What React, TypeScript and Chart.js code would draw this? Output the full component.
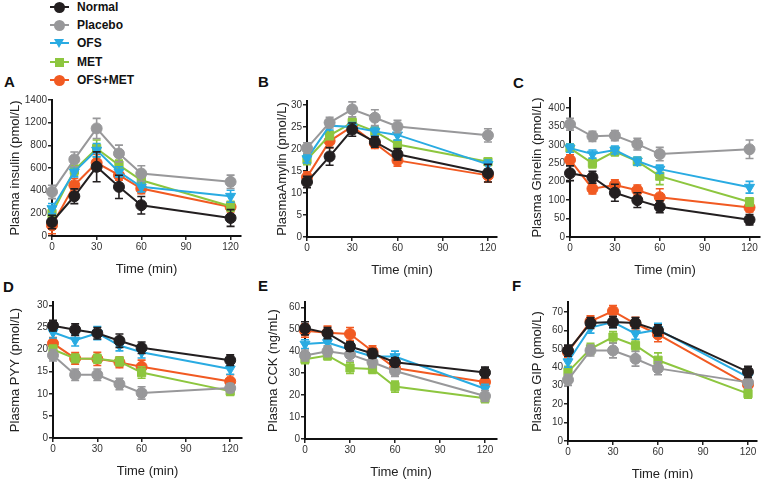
import React, { useEffect, useRef } from 'react';
import { Chart, registerables } from 'chart.js';
Chart.register(...registerables);

// ---------- data ----------
const seriesNames = ['Normal', 'Placebo', 'OFS', 'MET', 'OFS+MET'];
const timePoints = [0, 15, 30, 45, 60, 120];

// A: insulin (plotted on linear 0..1200 grid; axis labels as printed in the figure)
const insulinTickLabels = ['0', '200', '400', '600', '800', '1200', '1400'];
const insulinMeans = [
  [125, 355, 618, 439, 275, 161],
  [394, 684, 961, 737, 558, 484],
  [245, 573, 767, 573, 439, 355],
  [200, 588, 782, 633, 498, 266],
  [95, 454, 654, 543, 424, 260],
];
const insulinErrors = [
  [60, 66, 134, 104, 78, 75],
  [60, 66, 90, 75, 69, 60],
  [45, 45, 60, 45, 45, 54],
  [45, 45, 75, 45, 45, 45],
  [75, 60, 75, 45, 45, 45],
];

// B: amylin
const amylinMeans = [
  [12.5, 18.3, 24.4, 21.6, 18.8, 14.5],
  [20.2, 26, 29, 27.1, 25.1, 23.1],
  [17.8, 25.3, 25, 24, 23.2, 16.5],
  [17.6, 23.1, 26, 24, 21, 17.1],
  [13.6, 21.8, 25.1, 21.3, 17.4, 14],
];
const amylinErrors = [
  [1.3, 2, 1.5, 1.2, 1.3, 2],
  [1.2, 1.2, 1.7, 1.8, 1.4, 1.5],
  [1, 1, 1, 1, 1.2, 1],
  [1.2, 1, 1, 1, 1, 0.8],
  [1.2, 1.5, 1.4, 1.2, 1.3, 1.5],
];

// C: ghrelin (plotted on linear 0..350 grid; axis labels as printed in the figure)
const ghrelinTickLabels = ['0', '50', '100', '200', '250', '300', '350', '400'];
const ghrelinMeans = [
  [173, 162, 120, 100, 82, 47],
  [306, 273, 275, 252, 225, 238],
  [241, 225, 236, 206, 184, 135],
  [241, 200, 232, 205, 165, 95],
  [209, 131, 141, 127, 108, 80],
];
const ghrelinErrors = [
  [20, 16, 23, 20, 16, 14],
  [16, 14, 14, 16, 18, 25],
  [11, 11, 11, 11, 11, 16],
  [11, 13, 12, 11, 23, 11],
  [14, 14, 14, 14, 23, 12],
];

// D: PYY
const pyyMeans = [
  [25.4, 24.5, 23.7, 22, 20.4, 17.6],
  [18.7, 14.3, 14.3, 12.2, 10.2, 11.3],
  [23.9, 22.1, 23.7, 20.9, 19.4, 15.6],
  [20, 18, 17.9, 17.3, 14.8, 10.6],
  [21.4, 18, 17.9, 17.1, 16.1, 12.8],
];
const pyyErrors = [
  [1.2, 1.3, 1.3, 1.5, 1.3, 1.2],
  [1.3, 1.3, 1.3, 1.3, 1.4, 1],
  [1.3, 1.3, 1.5, 1.2, 1.3, 1.2],
  [1, 1, 1, 1, 1.3, 1],
  [1.3, 1.3, 1.5, 1.2, 1.5, 1.5],
];

// E: CCK
const cckMeans = [
  [50.5, 48.3, 42.2, 39, 35, 30.3],
  [38.1, 40, 38.6, 35, 31, 19.6],
  [43.3, 44, 40.7, 37.6, 37.6, 22.9],
  [36.4, 38.1, 32.4, 31.9, 23.9, 18.6],
  [49.4, 48.5, 47.9, 40, 32.4, 26],
];
const cckErrors = [
  [3, 2.5, 2, 2, 2, 2.5],
  [2.5, 2.5, 3, 2.5, 2.5, 2.5],
  [2, 2, 2, 2, 2.5, 2],
  [2, 2, 2.5, 2, 2.5, 2],
  [3, 3, 3, 2.5, 3, 2.5],
];

// F: GIP
const gipMeans = [
  [49, 64, 64.5, 64, 60, 37.5],
  [33.2, 49.1, 49.1, 44.6, 39.4, 31.8],
  [43, 61.5, 64.5, 58.2, 60.4, 34.7],
  [37.5, 50, 56.4, 51.8, 43.8, 25.7],
  [48.2, 64.9, 70.5, 63.6, 57.8, 30.5],
];
const gipErrors = [
  [3, 3, 3, 3, 3, 3],
  [3, 3, 4, 4, 3.5, 3],
  [3, 3, 3, 3, 3.5, 3],
  [3, 3, 3, 3, 4, 2.5],
  [3, 3, 3, 3.5, 4, 3],
];

// ---------- styles ----------
const colors = ['#231f20', '#98989a', '#29abe2', '#8dc63f', '#f15a22'];
const markers = ['circle', 'circle', 'triangle', 'rect', 'circle'];
const FONT = 'Arial, "Liberation Sans", Helvetica, sans-serif';

type PanelCfg = {
  letter: string;
  title: string;
  means: number[][];
  errors: number[][];
  yMax: number;
  yStep: number;
  tickLabels: string[] | null;
  area: { left: number; right: number; top: number; bottom: number };
  xMax: number;
  titleDist: number;
  letterPos: [number, number];
};

const panels: PanelCfg[] = [
  { letter: 'A', title: 'Plasma insulin (pmol/L)', means: insulinMeans, errors: insulinErrors, yMax: 1215, yStep: 200, tickLabels: insulinTickLabels, area: { left: 52, right: 241, top: 100, bottom: 236 }, xMax: 127, titleDist: 37, letterPos: [4, 82] },
  { letter: 'B', title: 'PlasmaAmylin (pmol/L)', means: amylinMeans, errors: amylinErrors, yMax: 30.9, yStep: 5, tickLabels: null, area: { left: 307, right: 497, top: 101, bottom: 237 }, xMax: 126, titleDist: 25, letterPos: [258, 82] },
  { letter: 'C', title: 'Plasma Ghrelin (pmol/L)', means: ghrelinMeans, errors: ghrelinErrors, yMax: 377, yStep: 50, tickLabels: ghrelinTickLabels, area: { left: 570, right: 760, top: 98, bottom: 237 }, xMax: 127, titleDist: 33, letterPos: [513, 83] },
  { letter: 'D', title: 'Plasma PYY (pmol/L)', means: pyyMeans, errors: pyyErrors, yMax: 30.75, yStep: 5, tickLabels: null, area: { left: 53, right: 242, top: 302, bottom: 438 }, xMax: 128, titleDist: 38, letterPos: [3, 287] },
  { letter: 'E', title: 'Plasma CCK (ng/mL)', means: cckMeans, errors: cckErrors, yMax: 62.5, yStep: 10, tickLabels: null, area: { left: 305, right: 497, top: 302, bottom: 439 }, xMax: 128, titleDist: 32, letterPos: [258, 286] },
  { letter: 'F', title: 'Plasma GIP (pmol/L)', means: gipMeans, errors: gipErrors, yMax: 75.4, yStep: 10, tickLabels: null, area: { left: 568, right: 757, top: 302, bottom: 441 }, xMax: 126, titleDist: 31, letterPos: [512, 286] },
];

const Y_W = 52;
const X_H = 45;
const PAD_T = 12;
const PAD_R = 10;
const TITLE_SIZE = 13;

const errorBarPlugin = {
  id: 'errorBars',
  afterDatasetDraw(chart: any, args: any) {
    const i = args.index;
    const ds = chart.data.datasets[i];
    const errs: number[] = ds.errors;
    if (!errs) return;
    const meta = chart.getDatasetMeta(i);
    const ys = chart.scales.y;
    const ctx = chart.ctx;
    ctx.save();
    ctx.strokeStyle = ds.borderColor;
    ctx.lineWidth = 1.6;
    meta.data.forEach((pt: any, j: number) => {
      const v = ds.data[j].y;
      const e = errs[j];
      const x = pt.x;
      const yTop = ys.getPixelForValue(v + e);
      const yBot = ys.getPixelForValue(v - e);
      ctx.beginPath();
      ctx.moveTo(x, yTop);
      ctx.lineTo(x, yBot);
      ctx.moveTo(x - 4, yTop);
      ctx.lineTo(x + 4, yTop);
      ctx.moveTo(x - 4, yBot);
      ctx.lineTo(x + 4, yBot);
      ctx.stroke();
    });
    ctx.restore();
  },
};

function Panel({ p }: { p: PanelCfg }) {
  const ref = useRef<HTMLCanvasElement | null>(null);
  const cL = p.area.left - Y_W;
  const cT = p.area.top - PAD_T;
  const cW = p.area.right - p.area.left + Y_W + PAD_R;
  const cH = p.area.bottom - p.area.top + PAD_T + X_H;

  useEffect(() => {
    if (!ref.current) return;
    const datasets = seriesNames.map((name, s) => ({
      label: name,
      data: timePoints.map((t, j) => ({ x: t, y: p.means[s][j] })),
      errors: p.errors[s],
      borderColor: colors[s],
      backgroundColor: colors[s],
      pointBackgroundColor: colors[s],
      pointBorderColor: colors[s],
      pointStyle: markers[s],
      pointRotation: markers[s] === 'triangle' ? 180 : 0,
      pointRadius: markers[s] === 'circle' ? 5.5 : 5.8,
      pointBorderWidth: 1,
      borderWidth: 2,
      tension: 0,
      clip: false as any,
    }));
    const titlePadTop = Y_W - p.titleDist - (TITLE_SIZE * 1.2) / 2;
    const chart = new Chart(ref.current, {
      type: 'line',
      data: { datasets: datasets as any },
      plugins: [errorBarPlugin],
      options: {
        animation: false,
        responsive: false,
        maintainAspectRatio: false,
        layout: { padding: { left: 0, top: PAD_T, right: PAD_R, bottom: 0 } },
        plugins: { legend: { display: false }, tooltip: { enabled: false } },
        scales: {
          x: {
            type: 'linear',
            min: 0,
            max: p.xMax,
            afterFit: (scale: any) => { scale.height = X_H; },
            ticks: {
              stepSize: 30,
              includeBounds: false,
              padding: 1,
              color: '#333',
              font: { family: FONT, size: 10 },
              maxRotation: 0,
            },
            grid: { display: true, drawOnChartArea: false, drawTicks: true, tickLength: 4, color: '#222', lineWidth: 1.5 },
            border: { display: true, color: '#111', width: 2 },
            title: {
              display: true,
              text: 'Time (min)',
              color: '#222',
              font: { family: FONT, size: TITLE_SIZE },
              padding: { top: 0, bottom: 4.2 },
            },
          },
          y: {
            type: 'linear',
            min: 0,
            max: p.yMax,
            afterFit: (scale: any) => { scale.width = Y_W; },
            ticks: {
              stepSize: p.yStep,
              includeBounds: false,
              padding: 1,
              color: '#333',
              font: { family: FONT, size: 10 },
              callback: (value: any) =>
                p.tickLabels ? p.tickLabels[Math.round(Number(value) / p.yStep)] : String(value),
            },
            grid: { display: true, drawOnChartArea: false, drawTicks: true, tickLength: 4, color: '#222', lineWidth: 1.5 },
            border: { display: true, color: '#111', width: 2 },
            title: {
              display: true,
              text: p.title,
              color: '#222',
              font: { family: FONT, size: TITLE_SIZE },
              padding: { top: titlePadTop, bottom: 0 },
            },
          },
        },
      } as any,
    });
    return () => chart.destroy();
  }, []);

  return (
    <canvas
      ref={ref}
      width={cW}
      height={cH}
      style={{ position: 'absolute', left: cL, top: cT, width: cW, height: cH, display: 'block' }}
    />
  );
}

function LegendMarker({ s }: { s: number }) {
  const c = colors[s];
  const m = markers[s];
  if (m === 'triangle') {
    return (
      <div style={{ position: 'absolute', left: 3.5, top: -4.5, width: 0, height: 0, borderLeft: '5.5px solid transparent', borderRight: '5.5px solid transparent', borderTop: `9px solid ${c}` }} />
    );
  }
  if (m === 'rect') {
    return <div style={{ position: 'absolute', left: 4.5, top: -4, width: 9, height: 9, background: c }} />;
  }
  return <div style={{ position: 'absolute', left: 3.5, top: -5, width: 11, height: 11, borderRadius: '50%', background: c }} />;
}

export default function App() {
  return (
    <div style={{ position: 'absolute', left: 0, top: 0, width: 767, height: 479, background: '#fff', overflow: 'hidden', fontFamily: FONT }}>
      {seriesNames.map((name, s) => {
        const cy = 6.7 + s * 18.3;
        return (
          <div key={name} style={{ position: 'absolute', left: 50, top: cy, width: 0, height: 0 }}>
            <div style={{ position: 'absolute', left: 0, top: -1, width: 19, height: 2, background: colors[s] }} />
            <LegendMarker s={s} />
            <div style={{ position: 'absolute', left: 27, top: -8, height: 16, lineHeight: '16px', fontSize: 12, fontWeight: 'bold', color: '#111', whiteSpace: 'nowrap' }}>{name}</div>
          </div>
        );
      })}
      {panels.map((p) => (
        <div key={p.letter} style={{ position: 'absolute', left: p.letterPos[0], top: p.letterPos[1] - 9, height: 18, lineHeight: '18px', fontSize: 15, fontWeight: 'bold', color: '#111' }}>
          {p.letter}
        </div>
      ))}
      {panels.map((p) => (
        <Panel key={p.letter} p={p} />
      ))}
    </div>
  );
}
